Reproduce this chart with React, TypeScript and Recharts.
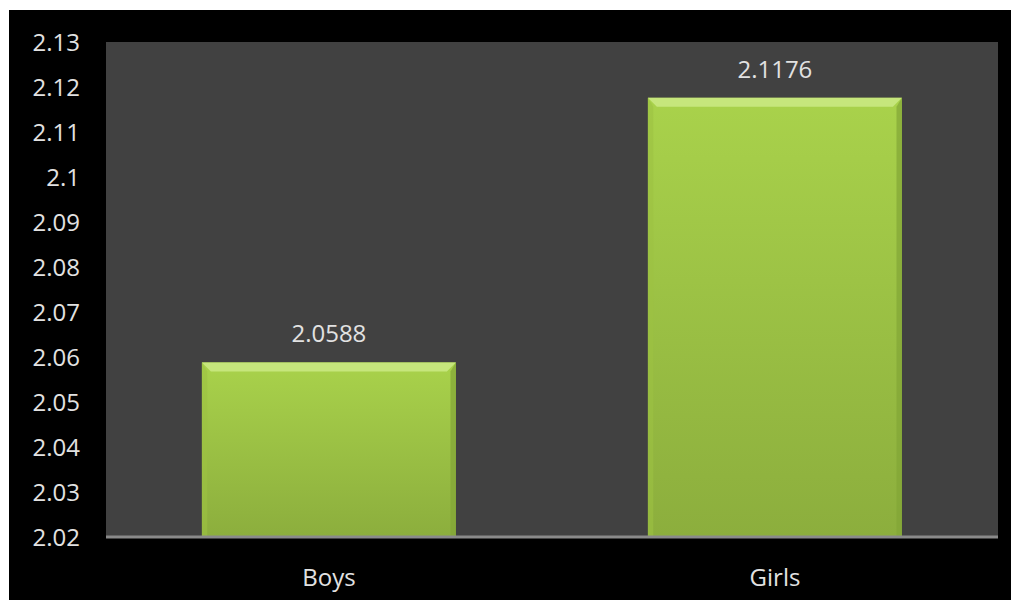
import React from "react";
import { BarChart, Bar, XAxis, YAxis, CartesianGrid, LabelList } from "recharts";

const categories = ["Boys", "Girls"];
const values = [2.0588, 2.1176];
const yTicks = [2.02, 2.03, 2.04, 2.05, 2.06, 2.07, 2.08, 2.09, 2.1, 2.11, 2.12, 2.13];

const data = categories.map((name, i) => ({ name, value: values[i] }));

const FONT = "'Open Sans', sans-serif";
const TEXT = "#e2e2e2";

const BevelBar = (props: any) => {
  const { x, y, width, height } = props;
  if (width == null || height == null || height <= 0) return null;
  const b = 9;
  return (
    <g>
      <rect x={x} y={y} width={width} height={height} fill="url(#barGrad)" />
      <polygon
        points={`${x},${y} ${x + width},${y} ${x + width - b},${y + b} ${x + b},${y + b}`}
        fill="#c6e67c"
      />
      <polygon
        points={`${x},${y} ${x + b * 0.6},${y + b} ${x + b * 0.6},${y + height} ${x},${y + height}`}
        fill="#9cc242"
        opacity={0.6}
      />
      <polygon
        points={`${x + width},${y} ${x + width - b * 0.6},${y + b} ${x + width - b * 0.6},${y + height} ${x + width},${y + height}`}
        fill="#82a536"
        opacity={0.7}
      />
    </g>
  );
};

export default function App() {
  return (
    <div style={{ paddingTop: 2, paddingLeft: 1, background: "#fff" }}>
      <BarChart
        width={1010}
        height={590}
        data={data}
        margin={{ top: 32, right: 21, left: 0, bottom: 0 }}
        barCategoryGap="21.5%"
        style={{ background: "#000" }}
      >
        <defs>
          <linearGradient id="barGrad" x1="0" y1="0" x2="0" y2="1">
            <stop offset="0%" stopColor="#a9d24b" />
            <stop offset="100%" stopColor="#8cae3d" />
          </linearGradient>
        </defs>
        <CartesianGrid fill="#414141" stroke="none" horizontal={false} vertical={false} />
        <XAxis
          dataKey="name"
          height={63}
          tickLine={false}
          tickSize={0}
          tickMargin={32}
          axisLine={{ stroke: "#8a8a8a", strokeWidth: 3 }}
          tick={{ fill: TEXT, fontSize: 24, fontFamily: FONT }}
        />
        <YAxis
          width={97}
          domain={[2.02, 2.13]}
          ticks={yTicks}
          interval={0}
          allowDataOverflow
          axisLine={false}
          tickLine={false}
          tickSize={0}
          tickMargin={26}
          tick={{ fill: TEXT, fontSize: 24, fontFamily: FONT }}
        />
        <Bar dataKey="value" isAnimationActive={false} shape={<BevelBar />}>
          <LabelList
            dataKey="value"
            position="top"
            offset={20}
            fill={TEXT}
            fontSize={24}
            fontFamily={FONT}
          />
        </Bar>
      </BarChart>
    </div>
  );
}
